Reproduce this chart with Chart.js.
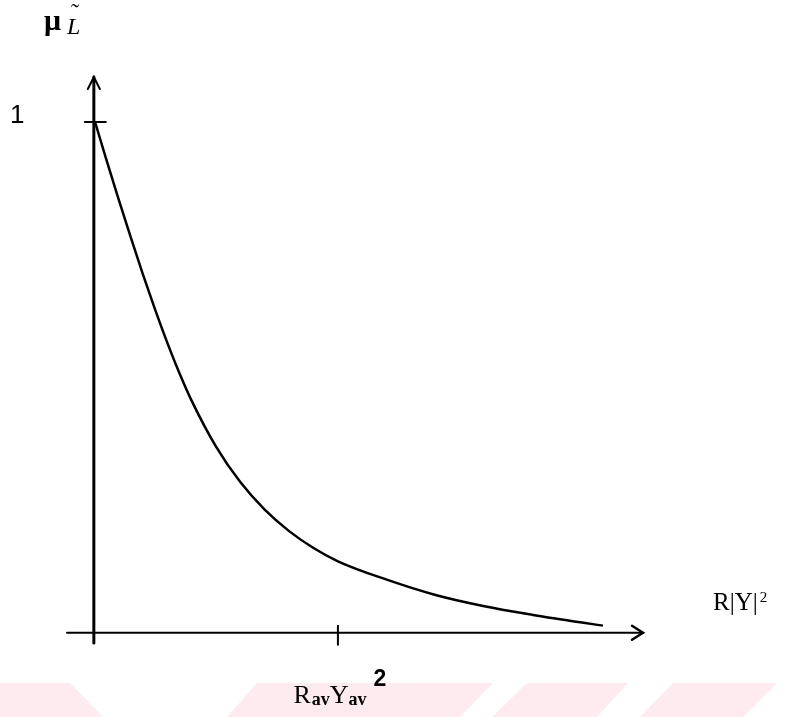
<!DOCTYPE html>
<html>
<head>
<meta charset="utf-8">
<script src="https://cdn.jsdelivr.net/npm/chart.js@4.4.1/dist/chart.umd.min.js"></script>
<style>
  html, body { margin: 0; padding: 0; background: #fff; }
  canvas { display: block; }
</style>
</head>
<body>
<canvas id="muChart" width="791" height="717"></canvas>
<script>
// ------------------- DATA -------------------
// curve: x in units of RavYav^2, y = membership value
const curveX = [0.005, 0.05, 0.10, 0.15, 0.20, 0.25, 0.30, 0.35, 0.40, 0.50, 0.60, 0.70,
                0.80, 0.90, 1.00, 1.20, 1.40, 1.60, 1.80, 2.00, 2.086];
const curveY = [1.000, 0.928, 0.851, 0.776, 0.703, 0.634, 0.569, 0.509, 0.455, 0.365, 0.295, 0.241,
                0.199, 0.166, 0.140, 0.104, 0.074, 0.052, 0.035, 0.020, 0.014];

// ticks
const xTicks = [1];
const xTickLabel = ["R", "av", "Y", "av", "2"]; // R_av Y_av ^2
const yTicks = [1];
const yTickLabels = ["1"];

// axis titles
const yTitle = ["\u03BC", "L", "\u02DC"]; // mu, L, tilde
const xTitle = ["R|Y|", "2"];

// axis extents (data units)
const xMin = -0.11, xMax = 2.25;
const yMin = -0.02, yMax = 1.088;

// ------------------- HELPERS -------------------
function drawRich(ctx, parts, cx, baseY) {
  // measure first, then draw centred on cx
  let total = 0;
  parts.forEach(p => { ctx.font = p.font; total += ctx.measureText(p.t).width + (p.gap || 0); });
  let x = cx - total / 2;
  parts.forEach(p => {
    ctx.font = p.font;
    x += p.gap || 0;
    ctx.fillText(p.t, x, baseY + (p.dy || 0));
    x += ctx.measureText(p.t).width;
  });
}

// watermark band along the bottom of the scan
const watermarkPlugin = {
  id: "watermark",
  beforeDraw(chart) {
    const ctx = chart.ctx;
    ctx.save();
    ctx.fillStyle = "#fdebef";
    const top = 683, bot = 717;
    const shapes = [
      [[0, top], [70, top], [103, bot], [0, bot]],
      [[257, top], [493, top], [460, bot], [227, bot]],
      [[527, top], [628, top], [597, bot], [492, bot]],
      [[673, top], [777, top], [743, bot], [640, bot]]
    ];
    shapes.forEach(s => {
      ctx.beginPath();
      s.forEach((p, i) => i ? ctx.lineTo(p[0], p[1]) : ctx.moveTo(p[0], p[1]));
      ctx.closePath();
      ctx.fill();
    });
    ctx.restore();
  }
};

// hand-drawn style axes with arrows, ticks and labels
const axesPlugin = {
  id: "axesArrows",
  beforeDatasetsDraw(chart) {
    const ctx = chart.ctx;
    const xs = chart.scales.x, ys = chart.scales.y;
    const x0 = xs.getPixelForValue(0), y0 = ys.getPixelForValue(0);
    const left = xs.getPixelForValue(xMin), right = xs.getPixelForValue(xMax);
    const top = ys.getPixelForValue(yMax), bottom = ys.getPixelForValue(yMin);

    ctx.save();
    ctx.strokeStyle = "#000";
    ctx.fillStyle = "#000";
    ctx.lineCap = "round";

    // y axis
    ctx.lineWidth = 3;
    ctx.beginPath();
    ctx.moveTo(x0, bottom);
    ctx.lineTo(x0, top);
    ctx.stroke();
    ctx.lineWidth = 2;
    ctx.beginPath();
    ctx.moveTo(x0 - 6, top + 12);
    ctx.lineTo(x0, top);
    ctx.lineTo(x0 + 6, top + 12);
    ctx.stroke();

    // x axis
    ctx.lineWidth = 2;
    ctx.beginPath();
    ctx.moveTo(left, y0);
    ctx.lineTo(right, y0);
    ctx.stroke();
    ctx.lineWidth = 2.5;
    ctx.beginPath();
    ctx.moveTo(right - 11, y0 - 7);
    ctx.lineTo(right, y0);
    ctx.lineTo(right - 11, y0 + 7);
    ctx.stroke();

    // ticks
    ctx.lineWidth = 2;
    yTicks.forEach((v, i) => {
      const py = ys.getPixelForValue(v);
      ctx.beginPath();
      ctx.moveTo(x0 - 9, py);
      ctx.lineTo(x0 + 12, py);
      ctx.stroke();
      ctx.font = "26px 'Liberation Sans', Arial, sans-serif";
      ctx.textAlign = "left";
      ctx.textBaseline = "alphabetic";
      ctx.fillText(yTickLabels[i], 10, py + 1);
    });
    xTicks.forEach(v => {
      const px = xs.getPixelForValue(v);
      ctx.beginPath();
      ctx.moveTo(px, y0 - 7);
      ctx.lineTo(px, y0 + 12);
      ctx.stroke();
      ctx.textAlign = "left";
      ctx.textBaseline = "alphabetic";
      const main = "26px 'Liberation Serif', 'Times New Roman', serif";
      const sub = "bold 18px 'Liberation Serif', 'Times New Roman', serif";
      drawRich(ctx, [
        { t: xTickLabel[0], font: main },
        { t: xTickLabel[1], font: sub, dy: 2, gap: 1 },
        { t: xTickLabel[2], font: main },
        { t: xTickLabel[3], font: sub, dy: 2 },
        { t: xTickLabel[4], font: "bold 23px 'Liberation Sans', Arial, sans-serif", dy: -17, gap: 7 }
      ], px + 2, y0 + 70);
    });

    // y axis title: mu L~
    ctx.textAlign = "left";
    ctx.font = "bold 30px 'Liberation Serif', 'Times New Roman', serif";
    ctx.fillText(yTitle[0], 44, 30);
    ctx.font = "italic 24px 'Liberation Serif', 'Times New Roman', serif";
    ctx.fillText(yTitle[1], 67, 34);
    ctx.font = "24px 'Liberation Serif', 'Times New Roman', serif";
    ctx.fillText(yTitle[2], 71, 20);

    // x axis title: R|Y|^2
    ctx.font = "25px 'Liberation Serif', 'Times New Roman', serif";
    ctx.fillText(xTitle[0], 713, 610);
    const w = ctx.measureText(xTitle[0]).width;
    ctx.font = "15px 'Liberation Serif', 'Times New Roman', serif";
    ctx.fillText(xTitle[1], 713 + w + 2, 602);

    ctx.restore();
  }
};

// ------------------- CHART.JS -------------------
const ctx = document.getElementById("muChart").getContext("2d");
const muChart = new Chart(ctx, {
  type: "line",
  data: {
    datasets: [{
      label: "mu",
      data: curveX.map((x, i) => ({ x: x, y: curveY[i] })),
      borderColor: "#000",
      borderWidth: 2.5,
      pointRadius: 0,
      fill: false,
      cubicInterpolationMode: "monotone"
    }]
  },
  options: {
    responsive: false,
    animation: false,
    devicePixelRatio: 1,
    layout: { padding: { left: 67, right: 148, top: 77, bottom: 74 } },
    scales: {
      x: { type: "linear", min: xMin, max: xMax, display: false },
      y: { type: "linear", min: yMin, max: yMax, display: false }
    },
    plugins: {
      legend: { display: false },
      tooltip: { enabled: false }
    }
  },
  plugins: [watermarkPlugin, axesPlugin]
});
</script>
</body>
</html>
